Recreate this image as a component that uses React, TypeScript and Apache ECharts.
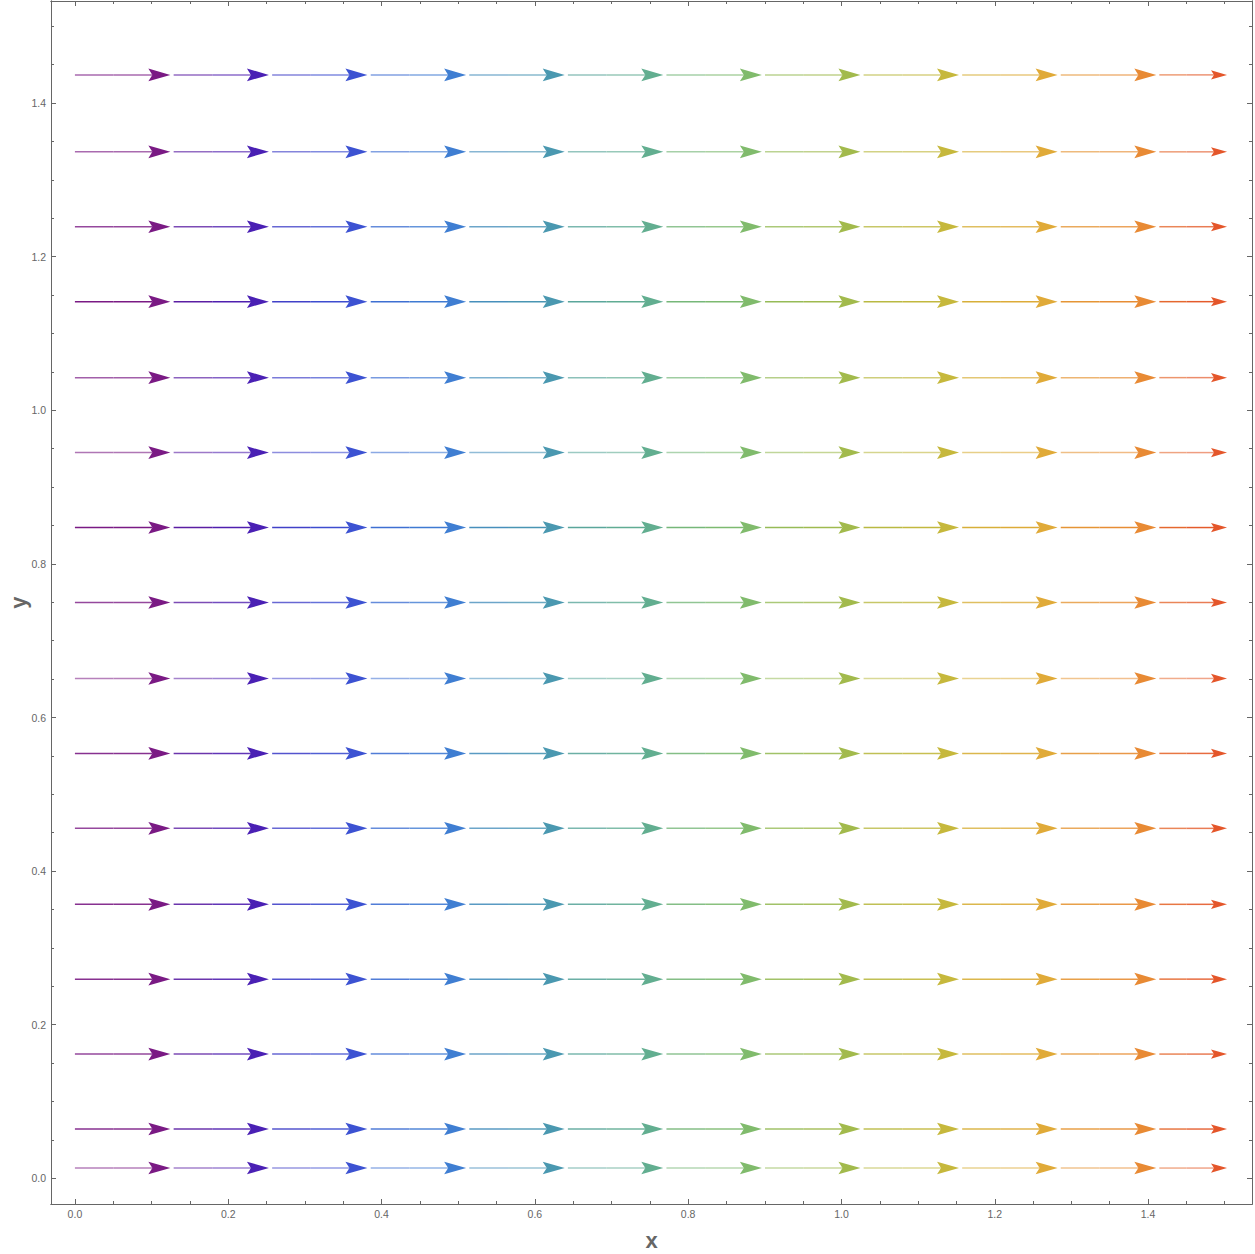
import React, { useEffect, useRef } from "react";
import * as echarts from "echarts";

// Streamline rows (y values), top to bottom
const streamY = [1.4368, 1.3366, 1.2391, 1.1415, 1.0426, 0.945, 0.8474, 0.7498, 0.6509, 0.5533, 0.4557, 0.3568, 0.2594, 0.1618, 0.0642, 0.0134];
// How pale the line part of each row is (0 = as dark as arrowheads)
const rowPaleness = [0.35, 0.35, 0.2, 0.0, 0.3, 0.4, 0.0, 0.2, 0.45, 0.1, 0.2, 0.1, 0.1, 0.2, 0.1, 0.45];
// Segment starts and arrow tips along x
const segStart = [0, 0.1288, 0.2573, 0.3859, 0.5145, 0.6431, 0.7717, 0.9003, 1.0289, 1.1575, 1.2861, 1.4147];
const segEnd = [0.1245, 0.2531, 0.3816, 0.5104, 0.639, 0.7676, 0.8962, 1.0248, 1.1534, 1.282, 1.4108, 1.503];
const segColor = ["#7a1a84", "#4a20b4", "#3c52d2", "#3f7ed2", "#4a98b0", "#62ae90", "#80bb6c", "#a2ba4c", "#c6b83c", "#e0aa38", "#e88a34", "#e4562a"];

const xLabels = [0, 0.2, 0.4, 0.6, 0.8, 1.0, 1.2, 1.4];
const yLabels = [0, 0.2, 0.4, 0.6, 0.8, 1.0, 1.2, 1.4];

const X_MIN = -0.0312, X_MAX = 1.5356;
const Y_MIN = -0.0334, Y_MAX = 1.533;

function hexToRgb(h: string) {
  const n = parseInt(h.slice(1), 16);
  return [(n >> 16) & 255, (n >> 8) & 255, n & 255];
}
function pale(h: string, f: number) {
  const [r, g, b] = hexToRgb(h);
  const m = (c: number) => Math.round(c + (255 - c) * f);
  return `rgb(${m(r)},${m(g)},${m(b)})`;
}
function mixHex(a: string, b: string, t: number) {
  const A = hexToRgb(a), B = hexToRgb(b);
  const c = A.map((v, i) => Math.round(v + (B[i] - v) * t));
  return "#" + c.map((v) => v.toString(16).padStart(2, "0")).join("");
}

const minorX: number[] = [];
for (let i = 0; i <= 30; i++) minorX.push(+(i * 0.05).toFixed(2));
const minorY: number[] = [];
for (let i = 0; i <= 30; i++) minorY.push(+(i * 0.05).toFixed(2));

export default function App() {
  const ref = useRef<HTMLDivElement>(null);
  useEffect(() => {
    if (!ref.current) return;
    const chart = echarts.init(ref.current, null, { renderer: "svg" });
    const data: number[][] = [];
    streamY.forEach((y, r) => {
      segStart.forEach((s, i) => {
        data.push([s, segEnd[i], y, i, r]);
      });
    });
    const axColor = "#666666";
    const font = "Liberation Sans, Arial, sans-serif";
    const labelStyle = { color: "#666666", fontSize: 10.5, fontFamily: font };
    const mkX = (pos: "bottom" | "top", minor: boolean, labels: boolean) => ({
      type: "value",
      position: pos,
      min: X_MIN,
      max: X_MAX,
      axisLine: { show: true, onZero: false, lineStyle: { color: axColor, width: 1 } },
      axisTick: { show: true, inside: true, length: minor ? 3 : 5, customValues: minor ? minorX : xLabels, lineStyle: { color: axColor } },
      axisLabel: labels
        ? { show: true, customValues: xLabels, formatter: (v: number) => v.toFixed(1), margin: 4, ...labelStyle }
        : { show: false },
      splitLine: { show: false },
      ...(labels && pos === "bottom"
        ? { name: "x", nameLocation: "middle", nameGap: 25, nameTextStyle: { color: "#666666", fontSize: 22, fontWeight: "bold", fontFamily: font } }
        : {}),
    });
    const mkY = (pos: "left" | "right", minor: boolean, labels: boolean) => ({
      type: "value",
      position: pos,
      min: Y_MIN,
      max: Y_MAX,
      axisLine: { show: true, onZero: false, lineStyle: { color: axColor, width: 1 } },
      axisTick: { show: true, inside: true, length: minor ? 3 : 5, customValues: minor ? minorY : yLabels, lineStyle: { color: axColor } },
      axisLabel: labels
        ? { show: true, customValues: yLabels, formatter: (v: number) => v.toFixed(1), margin: 5, ...labelStyle }
        : { show: false },
      splitLine: { show: false },
      ...(labels && pos === "left"
        ? {
            name: "y",
            nameLocation: "middle",
            nameGap: 22,
            nameRotate: 90,
            nameMoveOverlap: false,
            nameTextStyle: { color: "#666666", fontSize: 22, fontWeight: "bold", fontFamily: font },
          }
        : {}),
    });
    chart.setOption({
      animation: false,
      backgroundColor: "#ffffff",
      grid: { left: 51, right: 3, top: 1, bottom: 50, containLabel: false, outerBoundsMode: "none" },
      xAxis: [mkX("bottom", false, true), mkX("bottom", true, false), mkX("top", false, false), mkX("top", true, false)],
      yAxis: [mkY("left", false, true), mkY("left", true, false), mkY("right", false, false), mkY("right", true, false)],
      series: [
        {
          type: "custom",
          xAxisIndex: 0,
          yAxisIndex: 0,
          data,
          renderItem: (params: any, api: any) => {
            const x0 = api.value(0), x1 = api.value(1), y = api.value(2);
            const i = api.value(3), r = api.value(4);
            const p0 = api.coord([x0, y]);
            const p1 = api.coord([x1, y]);
            const last = i === segStart.length - 1;
            const len = last ? 16 : 22;
            const hh = last ? 4.6 : 6.3;
            const notch = last ? 3 : 4;
            const col = segColor[i];
            const prev = i > 0 ? mixHex(segColor[i - 1], col, 0.5) : col;
            const f = rowPaleness[r];
            const baseX = p1[0] - len;
            const lineEnd = baseX + notch;
            const mid = (p0[0] + lineEnd) / 2;
            return {
              type: "group",
              children: [
                {
                  type: "line",
                  shape: { x1: p0[0], y1: p0[1], x2: mid, y2: p0[1] },
                  style: { stroke: pale(mixHex(prev, col, 0.3), f), lineWidth: 1.5 },
                },
                {
                  type: "line",
                  shape: { x1: mid, y1: p0[1], x2: lineEnd, y2: p0[1] },
                  style: { stroke: pale(mixHex(prev, col, 0.8), f), lineWidth: 1.5 },
                },
                {
                  type: "polygon",
                  shape: {
                    points: [
                      [p1[0], p1[1]],
                      [baseX, p1[1] - hh],
                      [baseX + notch, p1[1]],
                      [baseX, p1[1] + hh],
                    ],
                  },
                  style: { fill: col },
                },
              ],
            };
          },
        },
      ],
    });
    return () => chart.dispose();
  }, []);
  return (
    <div
      ref={ref}
      style={{ position: "fixed", left: 0, top: 0, width: 1255, height: 1254, background: "#fff" }}
    />
  );
}
